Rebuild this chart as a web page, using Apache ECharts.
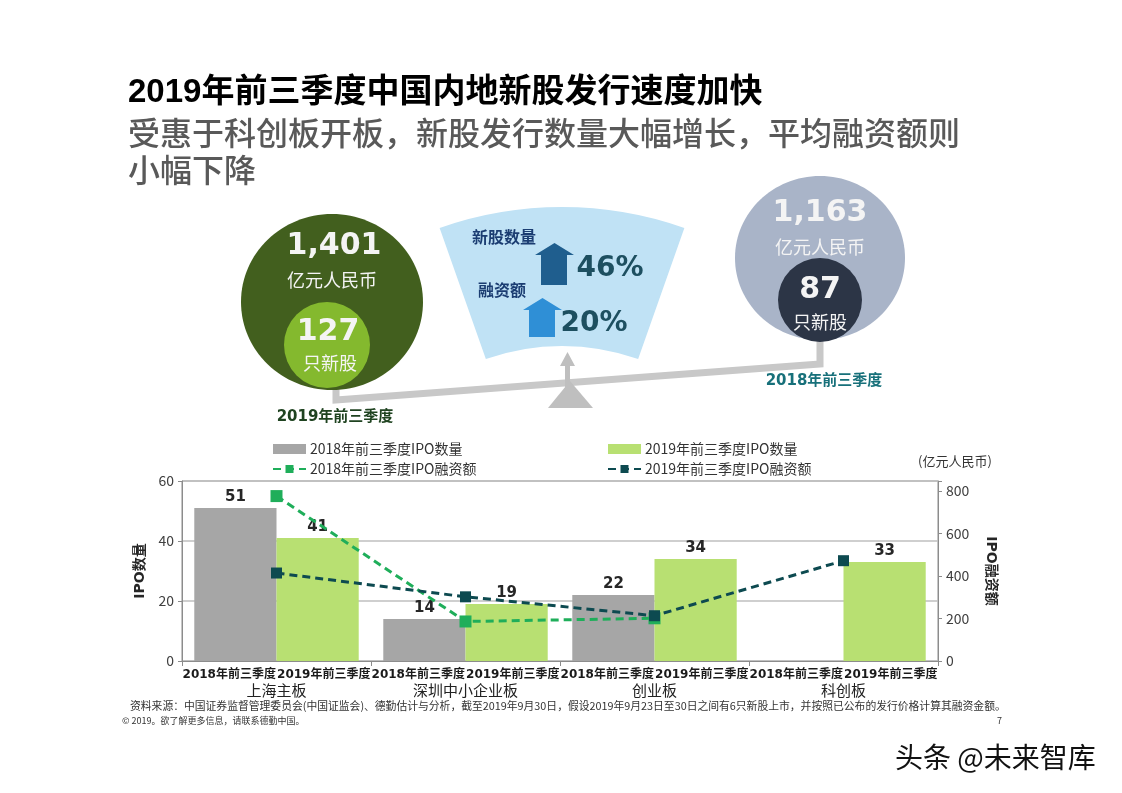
<!DOCTYPE html>
<html>
<head>
<meta charset="utf-8">
<script src="https://cdn.jsdelivr.net/npm/echarts@6/dist/echarts.min.js"></script>
<style>
html,body{margin:0;padding:0;background:#fff;}
#chart{width:1122px;height:793px;}
</style>
</head>
<body>
<div id="chart"></div>
<script>
// ---- data ----
const boards = ['上海主板', '深圳中小企业板', '创业板', '科创板'];
const periodLabels = ['2018年前三季度', '2019年前三季度', '2018年前三季度', '2019年前三季度',
                      '2018年前三季度', '2019年前三季度', '2018年前三季度', '2019年前三季度'];
const ipoCount2018 = [51, 14, 22, null];
const ipoCount2019 = [41, 19, 34, 33];
const ipoAmount2018 = [776, 186, 201, null];
const ipoAmount2019 = [414, 302, 213, 472];
const countTicks = [0, 20, 40, 60];
const amountTicks = [0, 200, 400, 600, 800];
const seriesNames = ['2018年前三季度IPO数量', '2019年前三季度IPO数量', '2018年前三季度IPO融资额', '2019年前三季度IPO融资额'];
const total2019 = ['1,401', '127'];
const total2018 = ['1,163', '87'];
const growth = ['46%', '20%'];

const CJK = '"Noto Sans CJK SC"';
const NUM = '"DejaVu Sans", "Noto Sans CJK SC"';

function txt(x, y, text, font, fill, align) {
  return {
    type: 'text', x: x, y: y, z: 20,
    style: { text: text, font: font, fill: fill, align: align || 'center', verticalAlign: 'middle' }
  };
}

const chart = echarts.init(document.getElementById('chart'), null, { renderer: 'canvas' });

const graphics = [
  // titles
  txt(128, 93, '2019年前三季度中国内地新股发行速度加快', 'bold 33px "Liberation Sans", ' + CJK, '#000', 'left'),
  txt(128, 133, '受惠于科创板开板，新股发行数量大幅增长，平均融资额则', '500 32px ' + CJK, '#595959', 'left'),
  txt(128, 170, '小幅下降', '500 32px ' + CJK, '#595959', 'left'),
  // fan
  { type: 'sector', z: 1, shape: { cx: 562, cy: 575, r: 368, r0: 229, startAngle: -Math.PI / 2 - 0.339, endAngle: -Math.PI / 2 + 0.339 }, style: { fill: '#c0e2f5' } },
  // beam
  { type: 'polyline', z: 2, shape: { points: [[336, 384], [336, 400], [820, 364], [820, 338]] }, style: { stroke: '#c8c8c8', lineWidth: 7, fill: null, lineJoin: 'miter' } },
  { type: 'polygon', z: 2, shape: { points: [[548, 408], [570, 381], [593, 408]] }, style: { fill: '#bfbfbf' } },
  { type: 'polygon', z: 2, shape: { points: [[565, 396], [565, 366], [560, 366], [567.5, 352], [575, 366], [570, 366], [570, 396]] }, style: { fill: '#bfbfbf' } },
  // growth arrows
  { type: 'polygon', z: 3, shape: { points: [[541, 285], [541, 255], [535, 255], [554.5, 243], [574, 255], [567, 255], [567, 285]] }, style: { fill: '#1f5e8e' } },
  { type: 'polygon', z: 3, shape: { points: [[529, 337], [529, 310], [523, 310], [542.5, 298], [562, 310], [555, 310], [555, 337]] }, style: { fill: '#2f8fd6' } },
  txt(504, 237, '新股数量', 'bold 16px ' + CJK, '#1b3d72'),
  txt(502, 290, '融资额', 'bold 16px ' + CJK, '#1b3d72'),
  txt(610, 269, growth[0], 'bold 28px ' + NUM, '#1d4f60'),
  txt(594, 324, growth[1], 'bold 28px ' + NUM, '#1d4f60'),
  // left circles
  { type: 'ellipse', z: 5, shape: { cx: 332, cy: 302, rx: 91, ry: 88 }, style: { fill: '#425f1e' } },
  { type: 'circle', z: 6, shape: { cx: 327, cy: 345, r: 43 }, style: { fill: '#84b92e' } },
  txt(334, 246, total2019[0], 'bold 30px ' + NUM, '#f4f4f4'),
  txt(332, 280, '亿元人民币', '18px ' + CJK, '#f4f4f4'),
  txt(328, 332, total2019[1], 'bold 30px ' + NUM, '#f4f4f4'),
  txt(330, 363, '只新股', '18px ' + CJK, '#f4f4f4'),
  txt(335, 417, '2019年前三季度', 'bold 15px ' + NUM, '#1f4320'),
  // right circles
  { type: 'ellipse', z: 5, shape: { cx: 820, cy: 258, rx: 85, ry: 82 }, style: { fill: '#a9b4c8' } },
  { type: 'circle', z: 6, shape: { cx: 820, cy: 300, r: 42 }, style: { fill: '#2c3546' } },
  txt(820, 213, total2018[0], 'bold 30px ' + NUM, '#f4f4f4'),
  txt(820, 247, '亿元人民币', '18px ' + CJK, '#f4f4f4'),
  txt(820, 290, total2018[1], 'bold 30px ' + NUM, '#f4f4f4'),
  txt(820, 322, '只新股', '18px ' + CJK, '#f4f4f4'),
  txt(824, 381, '2018年前三季度', 'bold 15px ' + NUM, '#17707a'),
  // unit
  txt(955, 461, '(亿元人民币)', '13px ' + CJK, '#333'),
  // footnotes
  txt(130, 706, '资料来源：中国证券监督管理委员会(中国证监会)、德勤估计与分析，截至2019年9月30日，假设2019年9月23日至30日之间有6只新股上市，并按照已公布的发行价格计算其融资金额。', '10.8px ' + CJK, '#333', 'left'),
  txt(122, 721, '© 2019。欲了解更多信息，请联系德勤中国。', '9px ' + CJK, '#333', 'left'),
  txt(1002, 721, '7', '9px ' + CJK, '#333', 'right'),
  // watermark
  txt(895, 757, '头条 @未来智库', '28px ' + CJK, '#111', 'left')
];

const option = {
  animation: false,
  backgroundColor: '#fff',
  textStyle: { fontFamily: CJK },
  graphic: { elements: graphics },
  legend: [
    {
      left: 272, top: 442, padding: 0, orient: 'vertical', itemGap: 6, itemWidth: 33, itemHeight: 10,
      textStyle: { fontSize: 14, color: '#333', fontFamily: CJK, lineHeight: 14, padding: [0, 0, 0, -1] },
      data: [{ name: seriesNames[0], icon: 'rect' }, { name: seriesNames[2] }]
    },
    {
      left: 607, top: 442, padding: 0, orient: 'vertical', itemGap: 6, itemWidth: 33, itemHeight: 10,
      textStyle: { fontSize: 14, color: '#333', fontFamily: CJK, lineHeight: 14, padding: [0, 0, 0, -1] },
      data: [{ name: seriesNames[1], icon: 'rect' }, { name: seriesNames[3] }]
    }
  ],
  grid: {
    left: 182, right: 184, top: 481, bottom: 132,
    show: true, borderColor: '#8c8c8c', borderWidth: 1, backgroundColor: 'transparent'
  },
  xAxis: [
    {
      type: 'category', data: boards, position: 'bottom',
      axisLine: { show: true, onZero: false, lineStyle: { color: '#8c8c8c' } },
      axisTick: { show: true, length: 5, lineStyle: { color: '#8c8c8c' } },
      axisLabel: { margin: 22, fontSize: 15, color: '#222', fontFamily: CJK }
    },
    {
      type: 'category', data: periodLabels, position: 'bottom',
      axisLine: { show: false, onZero: false }, axisTick: { show: false },
      axisLabel: { margin: 8, interval: 0, fontSize: 12, fontWeight: 'bold', color: '#1a1a1a', fontFamily: NUM }
    }
  ],
  yAxis: [
    {
      type: 'value', min: countTicks[0], max: countTicks[countTicks.length - 1], interval: 20, position: 'left',
      axisLine: { show: true, lineStyle: { color: '#8c8c8c' } },
      axisTick: { show: true, length: 4, lineStyle: { color: '#8c8c8c' } },
      splitLine: { show: true, lineStyle: { color: '#bfbfbf', width: 1.5 } },
      axisLabel: { fontSize: 14, color: '#404040', margin: 8 },
      name: 'IPO数量', nameLocation: 'middle', nameGap: 33, nameRotate: 90,
      nameTextStyle: { fontSize: 14, fontWeight: 'bold', color: '#262626', fontFamily: NUM }
    },
    {
      type: 'value', min: amountTicks[0], max: 847, interval: 200, position: 'right',
      axisLine: { show: true, lineStyle: { color: '#8c8c8c' } },
      axisTick: { show: true, length: 4, lineStyle: { color: '#8c8c8c' } },
      splitLine: { show: false },
      axisLabel: { fontSize: 14, color: '#404040', margin: 8,
        formatter: function (v) { return amountTicks.indexOf(v) >= 0 ? String(v) : ''; } },
      name: 'IPO融资额', nameLocation: 'middle', nameGap: 46, nameRotate: -90,
      nameTextStyle: { fontSize: 14, fontWeight: 'bold', color: '#262626', fontFamily: NUM }
    }
  ],
  series: [
    {
      name: seriesNames[0], type: 'bar', xAxisIndex: 0, yAxisIndex: 0, data: ipoCount2018,
      barGap: '0%', barCategoryGap: '13%', itemStyle: { color: '#a6a6a6' },
      label: { show: true, position: 'top', distance: 3, fontSize: 15, fontWeight: 'bold', color: '#262626', fontFamily: NUM }
    },
    {
      name: seriesNames[1], type: 'bar', xAxisIndex: 0, yAxisIndex: 0, data: ipoCount2019,
      barGap: '0%', barCategoryGap: '13%', itemStyle: { color: '#b8e072' },
      label: { show: true, position: 'top', distance: 3, fontSize: 15, fontWeight: 'bold', color: '#262626', fontFamily: NUM }
    },
    {
      name: seriesNames[2], type: 'line', xAxisIndex: 0, yAxisIndex: 1, data: ipoAmount2018, z: 5,
      symbol: 'rect', symbolSize: 12, itemStyle: { color: '#1fae5a' },
      lineStyle: { color: '#1fae5a', width: 3, type: [8, 5] }
    },
    {
      name: seriesNames[3], type: 'line', xAxisIndex: 0, yAxisIndex: 1, data: ipoAmount2019, z: 6,
      symbol: 'rect', symbolSize: 11, itemStyle: { color: '#0d4a50' },
      lineStyle: { color: '#0d4a50', width: 3, type: [8, 5] }
    }
  ]
};
chart.setOption(option);
</script>
</body>
</html>
